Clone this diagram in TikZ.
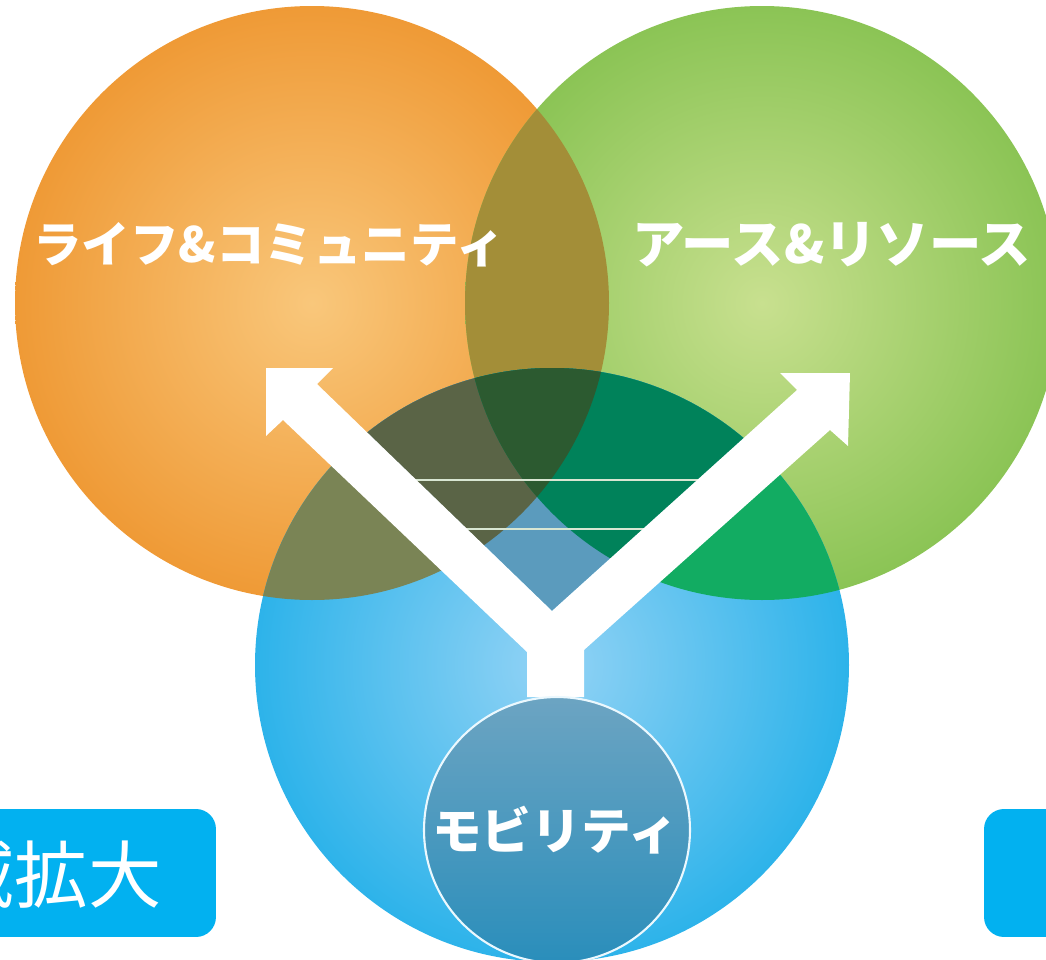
\documentclass[tikz,border=0pt]{standalone}
\usepackage{fontspec}
\newfontfamily\cjk{Noto Sans CJK JP}
\definecolor{oIn}{HTML}{F9C77B}
\definecolor{oOut}{HTML}{EF9A36}
\definecolor{gIn}{HTML}{C8E08F}
\definecolor{gOut}{HTML}{8BC455}
\definecolor{bIn}{HTML}{93D3F5}
\definecolor{bOut}{HTML}{2DB3EA}
\definecolor{ogCol}{HTML}{A38E38}
\definecolor{obCol}{HTML}{7A8455}
\definecolor{gbCol}{HTML}{12AC62}
\definecolor{vbCol}{HTML}{5B9BBD}
\definecolor{vobCol}{HTML}{5A6446}
\definecolor{vgbCol}{HTML}{00825A}
\definecolor{vogbCol}{HTML}{2C5A30}
\definecolor{mobTop}{HTML}{6CA4C2}
\definecolor{mobBot}{HTML}{2A8EBB}
\definecolor{boxBlue}{HTML}{02B1F0}
\definecolor{lineCol}{HTML}{D8E6D2}
\tikzset{
  lbl/.style={text=white, inner sep=0pt},
  boxlbl/.style={text=white, inner sep=0pt, font=\cjk\fontsize{41.8}{48}\selectfont},
  bluebox/.style={fill=boxBlue, rounded corners=0.4cm, inner sep=0pt, minimum width=5.12cm, minimum height=2.56cm},
  thinline/.style={draw=lineCol, line width=0.9pt},
}
\begin{document}
\begin{tikzpicture}[x=0.02cm,y=-0.02cm]
\useasboundingbox (0,0) rectangle (1046,960);
\clip (0,0) rectangle (1046,960);
\coordinate (oc) at (312,303);
\coordinate (gc) at (762,303);
\coordinate (bc) at (552,665);
% base circles
\path[shading=radial, inner color=oIn, outer color=oOut] (oc) circle (297);
\path[shading=radial, inner color=gIn, outer color=gOut] (gc) circle (297);
\begin{scope}
  \clip (oc) circle (297);
  \fill[ogCol] (gc) circle (297);
\end{scope}
\path[shading=radial, inner color=bIn, outer color=bOut] (bc) circle (297);
\begin{scope}
  \clip (bc) circle (297);
  \fill[obCol] (oc) circle (297);
  \fill[gbCol] (gc) circle (297);
  % darker area inside the V
  \clip (552,611) -- (82,157) -- (1042,169) -- cycle;
  \fill[vbCol] (bc) circle (297);
  \fill[vobCol] (oc) circle (297);
  \fill[vgbCol] (gc) circle (297);
  \clip (oc) circle (297);
  \fill[vogbCol] (gc) circle (297);
\end{scope}
% thin horizontal lines
\draw[thinline] (390,480) -- (720,480);
\draw[thinline] (440,529) -- (670,529);
% white Y arrow
\fill[white] (266,368) -- (333,368) -- (317,384) -- (552,611) -- (797,390)
  -- (780,373) -- (850,373) -- (848,446) -- (830,430) -- (584,650)
  -- (584,697) -- (527,697) -- (527,652) -- (283,420) -- (266,436) -- cycle;
% mobility circle
\node[circle, draw=white!92!cyan, line width=1.2pt, minimum size=5.32cm, inner sep=0pt,
  top color=mobTop, bottom color=mobBot] (mobc) at (557,830) {};
% labels
\node[lbl, font=\cjk\bfseries\fontsize{27.6}{32}\selectfont] (life) at (269,245) {ライフ\&コミュニティ};
\node[lbl, font=\cjk\bfseries\fontsize{29.8}{34}\selectfont] (earth) at (832,245) {アース\&リソース};
\node[lbl, font=\cjk\bfseries\fontsize{28.3}{33}\selectfont] (mob) at (555,830) {モビリティ};
% boxes
\node[bluebox] (lbox) at (88,873) {};
\node[boxlbl, anchor=east] (ltext) at (162,875) {領域拡大};
\node[bluebox] (rbox) at (1112,873) {};
\end{tikzpicture}
\end{document}
